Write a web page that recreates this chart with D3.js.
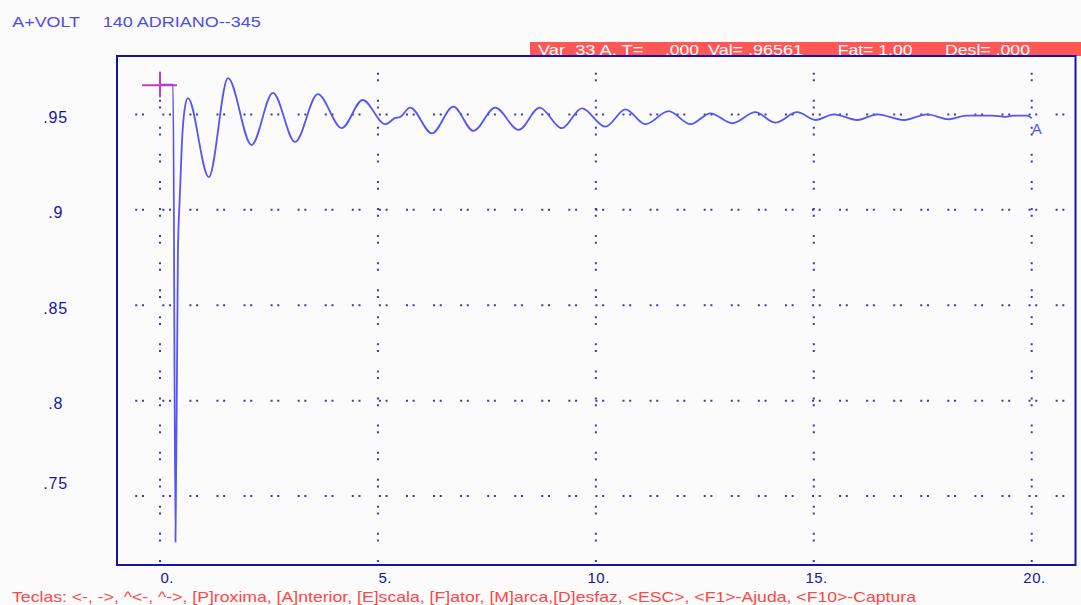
<!DOCTYPE html>
<html><head><meta charset="utf-8">
<script src="https://cdn.jsdelivr.net/npm/d3@7/dist/d3.min.js"></script>
<style>
html,body{margin:0;padding:0;background:#fbfbfb;overflow:hidden}
text{font-family:"Liberation Sans",Arial,sans-serif}
</style>
</head><body>
<svg id="chart" width="1081" height="605"></svg>
<script>
// ---- data ----
const timeS = [0, 0.30, 0.355, 0.41, 0.45, 0.50, 0.56, 0.64,
  1.12, 1.56, 2.10, 2.59, 3.10, 3.62, 4.17, 4.65, 5.17, 5.40, 5.50, 5.74,
  6.24, 6.73, 7.19, 7.69, 8.23, 8.71, 9.22, 9.68, 10.22, 10.68, 11.14, 11.67,
  12.17, 12.63, 13.13, 13.66, 14.12, 14.62, 15.04, 15.46, 16.00, 16.46, 17.07,
  17.60, 18.10, 18.50, 19.10, 19.40, 19.60, 19.90, 20.00];
const voltPU = [0.96561, 0.96561, 0.726, 0.877, 0.905, 0.934, 0.952, 0.9586,
  0.9172, 0.9691, 0.9340, 0.9613, 0.9356, 0.9607, 0.9429, 0.9576, 0.9449, 0.9482, 0.9486, 0.9536,
  0.9401, 0.9541, 0.9414, 0.9536, 0.9419, 0.9536, 0.9428, 0.9532, 0.9436, 0.9527, 0.9449, 0.9518,
  0.9449, 0.9506, 0.9454, 0.9512, 0.9457, 0.9512, 0.9471, 0.9501, 0.9471, 0.9501, 0.9471,
  0.9501, 0.9475, 0.9494, 0.9494, 0.9488, 0.9494, 0.9494, 0.9480];
const xTicks = [0, 5, 10, 15, 20];
const xTickLabels = ["0.", "5.", "10.", "15.", "20."];
const yTicks = [0.95, 0.90, 0.85, 0.80, 0.75];
const yTickLabels = [".95", ".9", ".85", ".8", ".75"];
const cursorT = [0];
const cursorV = [0.96561];
const titleVar = "A+VOLT";
const titleBus = "140 ADRIANO--345";
const statusParts = ["Var  33 A, T=", ".000", "Val= .96561", "Fat= 1.00", "Desl= .000"];
const seriesLabel = "A";
const helpText = "Teclas: <-, ->, ^<-, ^->, [P]roxima, [A]nterior, [E]scala, [F]ator, [M]arca,[D]esfaz, <ESC>, <F1>-Ajuda, <F10>-Captura";

// ---- layout ----
const L = 117, R = 1075.5, T = 56, B = 565;
const svg = d3.select("#chart");
svg.append("rect").attr("width", 1081).attr("height", 605).attr("fill", "#fbfbfb");

const x = d3.scaleLinear().domain([-0.987, 21.005]).range([L, R]);
const y = d3.scaleLinear().domain([0.71384, 0.98066]).range([B, T]);

const navy = "#1414a6", gridC = "#3838b8", curveC = "#5656f6";

// title
svg.append("text").attr("x", 12.3).attr("y", 26.7).attr("font-size", 15)
  .attr("fill", "#4c4ce8").attr("textLength", 67.7).attr("lengthAdjust", "spacingAndGlyphs").text(titleVar);
svg.append("text").attr("x", 102.7).attr("y", 26.7).attr("font-size", 15)
  .attr("fill", "#4c4ce8").attr("textLength", 158).attr("lengthAdjust", "spacingAndGlyphs").text(titleBus);

// status bar
svg.append("rect").attr("x", 530).attr("y", 42).attr("width", 551).attr("height", 14).attr("fill", "#ff5656");
const statusPos = [[538, 105.4], [665, 34], [708, 95], [837.7, 74.8], [945, 85]];
statusParts.forEach((s, i) => {
  svg.append("text").attr("x", statusPos[i][0]).attr("y", 55).attr("font-size", 15)
    .attr("fill", "#ffffff").attr("textLength", statusPos[i][1]).attr("lengthAdjust", "spacingAndGlyphs")
    .attr("xml:space", "preserve").text(s);
});

// grid (dotted pairs)
const dash = "2,4.7,2,18.37";
svg.append("g").selectAll("line").data(yTicks).join("line")
  .attr("x1", L).attr("x2", R).attr("y1", d => y(d)).attr("y2", d => y(d))
  .attr("stroke", gridC).attr("stroke-width", 2).attr("stroke-dasharray", dash).attr("stroke-dashoffset", 8.82);
svg.append("g").selectAll("line").data(xTicks).join("line")
  .attr("x1", d => x(d)).attr("x2", d => x(d)).attr("y1", T).attr("y2", B)
  .attr("stroke", gridC).attr("stroke-width", 2).attr("stroke-dasharray", dash).attr("stroke-dashoffset", 10.42);

// frame
svg.append("rect").attr("x", L).attr("y", T).attr("width", R - L).attr("height", B - T)
  .attr("fill", "none").attr("stroke", navy).attr("stroke-width", 2);

// y axis labels
const gy = svg.append("g").attr("transform", "translate(55.6,0)")
  .call(d3.axisLeft(y).tickValues(yTicks).tickSize(0).tickFormat((d, i) => yTickLabels[i]));
gy.select(".domain").remove();
gy.selectAll("text").attr("x", 0).attr("dy", null).attr("text-anchor", "middle")
  .attr("font-family", null).attr("font-size", 16).attr("letter-spacing", 0.8).attr("fill", navy)
  .attr("y", (d, i) => i === yTicks.length - 1 ? -7.8 : 8);

// x axis labels
const gx = svg.append("g").attr("transform", "translate(0,582.5)")
  .call(d3.axisBottom(x).tickValues(xTicks).tickSize(0).tickFormat((d, i) => xTickLabels[i]));
gx.select(".domain").remove();
gx.selectAll("text").attr("x", 13.5).attr("y", 0).attr("dy", null).attr("text-anchor", "end")
  .attr("font-family", null).attr("font-size", 15).attr("letter-spacing", 0.5).attr("fill", navy);

// curve
const pts = timeS.map((t, i) => ({t, v: voltPU[i]}));
const line = d3.line().x(d => x(d.t)).y(d => y(d.v)).curve(d3.curveMonotoneX);
svg.append("path").datum(pts).attr("d", line).attr("fill", "none")
  .attr("stroke", curveC).attr("stroke-width", 1.8).attr("stroke-linejoin", "round");

// series end label
const last = pts[pts.length - 1];
svg.append("text").attr("x", x(last.t)).attr("y", y(last.v) + 15.5).attr("font-size", 15)
  .attr("fill", curveC).text(seriesLabel);

// cursor cross
cursorT.forEach((ct, i) => {
  const cx = x(ct), cy = y(cursorV[i]);
  svg.append("line").attr("x1", cx - 18).attr("x2", cx + 17).attr("y1", cy + 0.6).attr("y2", cy + 0.6)
    .attr("stroke", "#c43cc4").attr("stroke-width", 2);
  svg.append("line").attr("x1", cx).attr("x2", cx).attr("y1", cy - 13).attr("y2", cy + 12.5)
    .attr("stroke", "#c43cc4").attr("stroke-width", 2);
});

// help line
svg.append("text").attr("x", 12).attr("y", 601.5).attr("font-size", 15).attr("fill", "#ff4646")
  .attr("textLength", 904).attr("lengthAdjust", "spacingAndGlyphs").text(helpText);
</script>
</body></html>
